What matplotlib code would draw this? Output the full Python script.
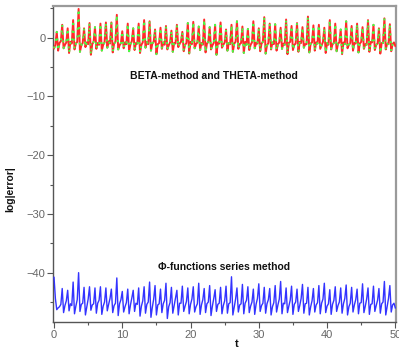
import numpy as np
import matplotlib
matplotlib.use("Agg")
import matplotlib.pyplot as plt
from matplotlib.ticker import MultipleLocator

# time grid: 0 .. 50 in steps of 0.2
t = np.arange(0, 251) * 0.2

# BETA / THETA method log|error|, rows of 4 samples (t, t+0.2, t+0.4, t+0.6)
beta_err = [
    -1.8, -1.2, 1.0, -2.2,
    -0.9, -0.6, 2.2, -1.8,
    -1.2, -0.8, 1.6, -2.6,
    -0.7, -1.0, 3.0, -2.0,
    -1.0, -0.7, 4.9, -2.4,
    -1.3, -0.9, 1.6, -1.6,
    -0.8, -1.1, 2.5, -2.9,
    -1.1, -0.7, 1.8, -1.9,
    -0.9, -1.2, 2.4, -2.2,
    -1.2, -0.8, 2.6, -1.7,
    -0.6, -1.0, 2.6, -2.5,
    -1.0, -0.7, 3.9, -2.0,
    -1.3, -0.9, 1.1, -1.8,
    -0.8, -1.1, 2.4, -2.3,
    -1.1, -0.6, 1.6, -2.1,
    -0.9, -1.0, 2.4, -2.6,
    -1.2, -0.8, 3.0, -1.7,
    -0.7, -1.1, 2.8, -2.2,
    -1.0, -0.7, 1.4, -2.8,
    -1.1, -0.9, 1.7, -1.9,
    -0.8, -1.2, 2.0, -2.0,
    -1.3, -0.8, 1.2, -2.4,
    -0.9, -1.0, 2.2, -1.6,
    -1.0, -0.7, 1.0, -2.3,
    -1.2, -0.9, 2.5, -2.7,
    -0.7, -1.1, 2.7, -1.8,
    -1.1, -0.8, 1.9, -2.1,
    -0.9, -1.2, 3.1, -2.5,
    -1.0, -0.7, 1.8, -2.0,
    -1.3, -0.9, 2.2, -2.9,
    -0.8, -1.0, 2.6, -1.7,
    -1.2, -0.8, 1.4, -2.2,
    -0.9, -1.1, 2.2, -2.4,
    -1.0, -0.7, 2.8, -1.9,
    -1.1, -0.9, 1.9, -2.6,
    -0.7, -1.2, 1.5, -2.1,
    -1.2, -0.8, 2.8, -1.8,
    -0.9, -1.0, 1.6, -2.3,
    -1.0, -0.7, 3.5, -2.7,
    -1.3, -0.9, 2.4, -2.0,
    -0.8, -1.1, 2.3, -2.2,
    -1.1, -0.8, 1.7, -1.9,
    -1.0, -1.2, 3.1, -2.8,
    -0.9, -0.7, 2.0, -2.1,
    -1.2, -1.0, 2.5, -2.4,
    -0.7, -0.9, 1.8, -1.7,
    -1.1, -1.1, 3.6, -2.5,
    -1.0, -0.8, 2.1, -2.2,
    -0.8, -1.0, 2.2, -1.9,
    -1.3, -0.7, 1.7, -2.6,
    -0.9, -1.2, 3.0, -2.0,
    -1.1, -0.9, 2.4, -2.3,
    -1.0, -0.8, 1.4, -2.8,
    -0.8, -1.1, 2.8, -1.8,
    -1.2, -0.9, 2.0, -2.2,
    -0.9, -1.0, 2.4, -2.5,
    -1.0, -0.7, 1.8, -1.9,
    -1.1, -1.2, 3.0, -2.4,
    -0.7, -0.8, 2.2, -2.1,
    -1.2, -1.0, 1.6, -2.7,
    -0.9, -0.9, 3.3, -2.0,
    -1.0, -1.1, 2.3, -2.3,
    -1.1, -0.8, -1.4,
]
theta_err = beta_err  # the two methods coincide on the plot

# Phi-functions series method log|error|
phi_err = [
    -40.8, -44.4, -46.3, -46.0,
    -45.8, -45.4, -42.7, -46.8,
    -45.6, -44.8, -43.0, -46.5,
    -45.3, -45.6, -41.6, -47.0,
    -45.7, -44.6, -40.0, -46.6,
    -45.4, -45.2, -42.5, -47.2,
    -45.8, -44.5, -42.4, -46.4,
    -45.5, -45.3, -42.6, -46.9,
    -45.2, -44.7, -42.4, -47.1,
    -45.7, -45.0, -42.6, -46.5,
    -45.4, -44.4, -42.8, -46.8,
    -45.6, -45.2, -40.9, -47.3,
    -45.3, -44.6, -43.2, -46.7,
    -45.8, -45.1, -42.8, -47.0,
    -45.5, -44.3, -43.0, -46.6,
    -45.2, -45.4, -42.6, -47.4,
    -45.7, -44.8, -42.4, -46.9,
    -45.4, -45.0, -41.6, -47.6,
    -45.9, -44.5, -42.2, -47.2,
    -45.5, -45.3, -42.8, -46.8,
    -45.3, -44.7, -41.8, -47.8,
    -45.8, -45.1, -42.5, -46.9,
    -45.6, -44.4, -43.0, -47.2,
    -45.2, -45.2, -42.3, -46.6,
    -45.7, -44.9, -42.6, -47.0,
    -45.4, -44.5, -42.4, -46.7,
    -45.8, -45.3, -41.8, -47.1,
    -45.5, -44.6, -42.7, -46.8,
    -45.3, -45.0, -42.2, -47.3,
    -45.7, -44.4, -42.9, -46.6,
    -45.4, -45.2, -42.5, -47.0,
    -45.6, -44.8, -42.3, -46.9,
    -45.3, -45.1, -40.7, -47.2,
    -45.8, -44.5, -42.6, -46.7,
    -45.5, -45.3, -42.0, -47.0,
    -45.2, -44.7, -42.4, -46.8,
    -45.7, -45.0, -42.8, -47.1,
    -45.4, -44.4, -41.9, -46.6,
    -45.6, -45.2, -42.5, -46.9,
    -45.3, -44.6, -42.7, -47.2,
    -45.8, -45.1, -42.2, -46.7,
    -45.5, -44.5, -41.5, -47.0,
    -45.2, -45.3, -42.6, -46.8,
    -45.7, -44.7, -42.3, -47.1,
    -45.4, -45.0, -42.8, -46.6,
    -45.6, -44.4, -42.0, -46.9,
    -45.3, -45.2, -42.5, -47.2,
    -45.8, -44.8, -42.7, -46.7,
    -45.5, -45.1, -42.2, -47.0,
    -45.2, -44.5, -41.8, -46.8,
    -45.7, -45.3, -42.9, -47.1,
    -45.4, -44.7, -42.4, -46.6,
    -45.6, -45.0, -42.6, -46.9,
    -45.3, -44.4, -42.1, -47.2,
    -45.8, -45.2, -42.5, -46.7,
    -45.5, -44.6, -42.8, -47.0,
    -45.2, -45.1, -41.9, -46.8,
    -45.7, -44.5, -42.6, -47.1,
    -45.4, -45.3, -42.3, -46.6,
    -45.6, -44.7, -42.7, -46.9,
    -45.3, -45.0, -41.5, -47.2,
    -45.8, -44.4, -42.2, -46.7,
    -45.5, -45.2, -46.0,
]

x_ticks = [0, 10, 20, 30, 40, 50]
y_ticks = [0, -10, -20, -30, -40]
label_top = "BETA-method and THETA-method"
label_bottom = "\u03a6-functions series method"

plt.rcParams['font.family'] = ['Liberation Sans', 'DejaVu Sans']

fig = plt.figure(figsize=(3.99, 3.49), dpi=100)
ax = fig.add_axes([53 / 399, 1 - 322 / 349, 343 / 399, 316 / 349])

ax.plot(t, beta_err, color='#ff2a2a', lw=1.4, zorder=3)
ax.plot(t, theta_err, color='#44ff44', lw=1.4, dashes=(1.0, 3.0), zorder=4)
ax.plot(t, phi_err, color='#3333ff', lw=1.0, zorder=3)

ax.set_xlim(-0.15, 50.1)
ax.set_ylim(-48.4, 5.4)
ax.set_xticks(x_ticks)
ax.set_yticks(y_ticks)
ax.xaxis.set_minor_locator(MultipleLocator(5))
ax.yaxis.set_minor_locator(MultipleLocator(5))
ax.tick_params(which='major', direction='out', length=4, width=0.8,
               colors='#555555', labelsize=8, labelcolor='#666666', pad=1.5)
ax.tick_params(which='minor', direction='out', length=2, width=0.8,
               colors='#555555')

for s in ['left', 'bottom']:
    ax.spines[s].set_color('#555555')
    ax.spines[s].set_linewidth(1.0)
for s in ['top', 'right']:
    ax.spines[s].set_color('#9a9a9a')
    ax.spines[s].set_linewidth(1.6)

ax.text(0.47, 0.78, label_top, transform=ax.transAxes, ha='center',
        va='center', fontsize=7.5, fontweight='bold', color='#111111')
ax.text(0.5, 0.175, label_bottom, transform=ax.transAxes, ha='center',
        va='center', fontsize=7.5, fontweight='bold', color='#111111')

ax.set_ylabel('log|error|', fontsize=7.5, fontweight='bold', color='#111111')
ax.yaxis.set_label_coords(-0.11, 0.42)
ax.set_xlabel('t', fontsize=8, fontweight='bold', color='#111111')
ax.xaxis.set_label_coords(0.535, -0.055)

fig.savefig('out.png', dpi=100)
